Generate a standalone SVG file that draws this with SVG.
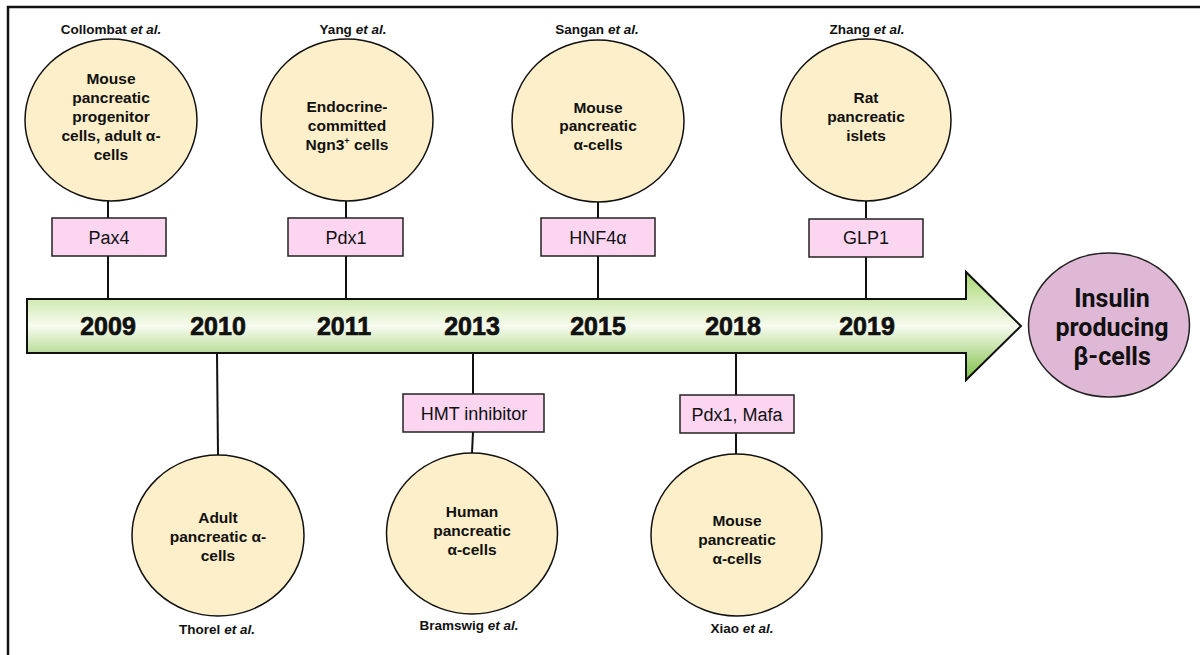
<svg xmlns="http://www.w3.org/2000/svg" width="1200" height="655" viewBox="0 0 1200 655">
<defs>
<linearGradient id="gh" gradientUnits="userSpaceOnUse" x1="0" y1="272" x2="0" y2="380">
<stop offset="0" stop-color="#a9d872"/>
<stop offset="0.5" stop-color="#f7fbef"/>
<stop offset="1" stop-color="#7cc043"/>
</linearGradient>
</defs>
<style>
.cell{fill:#fdefc9;stroke:#111;stroke-width:1.5}
.box{fill:#fcd6f1;stroke:#222;stroke-width:1.5}
.ln{stroke:#111;stroke-width:2;fill:none}
.ct{font-family:"Liberation Sans",Arial,sans-serif;font-weight:bold;font-size:15.5px;fill:#111;text-anchor:middle}
.bt{font-family:"Liberation Sans",Arial,sans-serif;font-size:18px;fill:#111;text-anchor:middle}
.au{font-family:"Liberation Sans",Arial,sans-serif;font-weight:bold;font-size:13.5px;fill:#111;text-anchor:middle}
.yr{font-family:"Liberation Sans",Arial,sans-serif;font-weight:bold;font-size:25px;fill:#111;stroke:#111;stroke-width:0.7;text-anchor:middle}
.big{font-family:Roboto,"Liberation Sans",Arial,sans-serif;font-weight:bold;font-size:25px;fill:#111;text-anchor:middle}
</style>
<rect x="0" y="0" width="1200" height="655" fill="#fff"/>
<path d="M8 655 V7 H1200" fill="none" stroke="#111" stroke-width="2.5"/>

<g id="connectors">
<line class="ln" x1="108" y1="201" x2="108" y2="218"/>
<line class="ln" x1="108" y1="256" x2="108" y2="299"/>
<line class="ln" x1="346" y1="201" x2="346" y2="218"/>
<line class="ln" x1="346" y1="256" x2="346" y2="299"/>
<line class="ln" x1="598" y1="202" x2="598" y2="218"/>
<line class="ln" x1="598" y1="256" x2="598" y2="299"/>
<line class="ln" x1="866" y1="201" x2="866" y2="218"/>
<line class="ln" x1="866" y1="257" x2="866" y2="299"/>
<line class="ln" x1="217" y1="353" x2="218" y2="455"/>
<line class="ln" x1="473" y1="353" x2="473" y2="394"/>
<line class="ln" x1="473" y1="432" x2="472" y2="453"/>
<line class="ln" x1="736" y1="353" x2="736" y2="395"/>
<line class="ln" x1="736" y1="433" x2="736" y2="454"/>
</g>

<g id="timeline">
<path d="M27 299 H966 V272 L1021 326 L966 380 V353 H27 Z" fill="url(#gh)" stroke="#111" stroke-width="2"/>
<text class="yr" x="108" y="335">2009</text>
<text class="yr" x="218" y="335">2010</text>
<text class="yr" x="344" y="335">2011</text>
<text class="yr" x="472" y="335">2013</text>
<text class="yr" x="598" y="335">2015</text>
<text class="yr" x="733" y="335">2018</text>
<text class="yr" x="867" y="335">2019</text>
</g>

<g id="collombat">
<text class="au" x="111" y="34">Collombat <tspan font-style="italic">et al.</tspan></text>
<ellipse class="cell" cx="111" cy="120" rx="86" ry="81"/>
<text class="ct" x="111" y="84">Mouse</text>
<text class="ct" x="111" y="103">pancreatic</text>
<text class="ct" x="111" y="122">progenitor</text>
<text class="ct" x="111" y="141">cells, adult α-</text>
<text class="ct" x="111" y="160">cells</text>
</g>
<g id="pax4">
<rect class="box" x="52" y="218" width="114" height="38"/>
<text class="bt" x="109" y="243.5">Pax4</text>
</g>

<g id="yang">
<text class="au" x="353" y="34">Yang <tspan font-style="italic">et al.</tspan></text>
<ellipse class="cell" cx="347" cy="120" rx="86" ry="81"/>
<text class="ct" x="347" y="112">Endocrine-</text>
<text class="ct" x="347" y="131">committed</text>
<text class="ct" x="347" y="149.5">Ngn3<tspan font-size="9" dy="-6">+</tspan><tspan dy="6"> cells</tspan></text>
</g>
<g id="pdx1">
<rect class="box" x="288" y="218" width="115" height="38"/>
<text class="bt" x="346" y="243.5">Pdx1</text>
</g>

<g id="sangan">
<text class="au" x="597" y="34">Sangan <tspan font-style="italic">et al.</tspan></text>
<ellipse class="cell" cx="598" cy="121" rx="86" ry="81"/>
<text class="ct" x="598" y="112.5">Mouse</text>
<text class="ct" x="598" y="131">pancreatic</text>
<text class="ct" x="598" y="149.5">α-cells</text>
</g>
<g id="hnf4a">
<rect class="box" x="541" y="218" width="114" height="38"/>
<text class="bt" x="598" y="243.5">HNF4α</text>
</g>

<g id="zhang">
<text class="au" x="867" y="34">Zhang <tspan font-style="italic">et al.</tspan></text>
<ellipse class="cell" cx="866" cy="120" rx="85" ry="81"/>
<text class="ct" x="866" y="102.5">Rat</text>
<text class="ct" x="866" y="121.5">pancreatic</text>
<text class="ct" x="866" y="140.5">islets</text>
</g>
<g id="glp1">
<rect class="box" x="809" y="219" width="114" height="38"/>
<text class="bt" x="866" y="244">GLP1</text>
</g>

<g id="thorel">
<ellipse class="cell" cx="218" cy="535.5" rx="86" ry="80.5"/>
<text class="ct" x="218" y="522.5">Adult</text>
<text class="ct" x="218" y="542">pancreatic α-</text>
<text class="ct" x="218" y="560.5">cells</text>
<text class="au" x="217" y="634">Thorel <tspan font-style="italic">et al.</tspan></text>
</g>

<g id="hmt">
<rect class="box" x="403" y="394" width="141" height="38"/>
<text class="bt" x="474" y="420">HMT inhibitor</text>
</g>
<g id="bramswig">
<ellipse class="cell" cx="472" cy="533.5" rx="85.5" ry="80.5"/>
<text class="ct" x="472" y="517">Human</text>
<text class="ct" x="472" y="536">pancreatic</text>
<text class="ct" x="472" y="555">α-cells</text>
<text class="au" x="469" y="630">Bramswig <tspan font-style="italic">et al.</tspan></text>
</g>

<g id="pdx1mafa">
<rect class="box" x="680" y="395" width="114" height="38"/>
<text class="bt" x="737" y="420.5">Pdx1, Mafa</text>
</g>
<g id="xiao">
<ellipse class="cell" cx="736.5" cy="535" rx="85.5" ry="81"/>
<text class="ct" x="737" y="526">Mouse</text>
<text class="ct" x="737" y="545">pancreatic</text>
<text class="ct" x="737" y="564">α-cells</text>
<text class="au" x="742" y="633">Xiao <tspan font-style="italic">et al.</tspan></text>
</g>

<g id="beta">
<ellipse cx="1109" cy="325" rx="80.5" ry="72" fill="#dfb8d6" stroke="#222" stroke-width="1.5"/>
<text class="big" x="1112" y="307">Insulin</text>
<text class="big" x="1112" y="336">producing</text>
<text class="big" x="1112" y="365">β-cells</text>
</g>
</svg>
